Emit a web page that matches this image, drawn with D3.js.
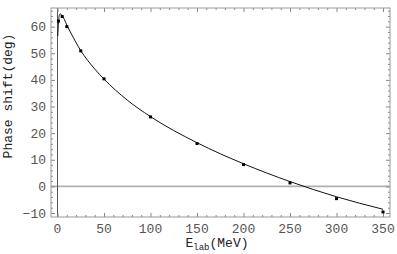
<!DOCTYPE html>
<html>
<head>
<meta charset="utf-8">
<script src="https://cdn.jsdelivr.net/npm/d3@7"></script>
<style>
  body { margin: 0; background: #fff; }
  text { font-family: "Liberation Mono", "DejaVu Sans Mono", monospace; }
</style>
</head>
<body>
<div id="chart"></div>
<script>
// measured phase shifts (points)
var energies = [1, 5, 10, 25, 50, 100, 150, 200, 250, 300, 350];
var phases = [62.1, 63.8, 60.0, 50.9, 40.4, 26.1, 16.1, 8.2, 1.3, -4.6, -9.6];

// fitted curve
var curveE = [0.3, 1, 2, 3, 5, 10, 15, 25, 40, 50, 75, 100, 150, 200, 250, 300, 350];
var curveD = [56.5, 61.5, 64.3, 64.8, 64.2, 60.6, 57.2, 51.0, 44.1, 40.3, 32.4, 26.2, 16.4, 8.5, 1.8, -3.9, -8.6];

var xTicks = [0, 50, 100, 150, 200, 250, 300, 350];
var yTicks = [-10, 0, 10, 20, 30, 40, 50, 60];

var W = 397, H = 254;
var margin = {top: 8, right: 7, bottom: 37, left: 51};
var width = W - margin.left - margin.right,
    height = H - margin.top - margin.bottom;

var svg = d3.select("#chart").append("svg")
    .attr("width", W)
    .attr("height", H);

var x = d3.scaleLinear().domain([-7, 357.5]).range([0, width]);
var y = d3.scaleLinear().domain([-11.5, 67]).range([height, 0]);

var plot = svg.append("g")
    .attr("transform", "translate(" + margin.left + "," + margin.top + ")");

// zero lines
plot.append("line")
    .attr("x1", 0).attr("x2", width)
    .attr("y1", y(0)).attr("y2", y(0))
    .style("stroke", "#b0b0b0").style("stroke-width", 1.6);
plot.append("line")
    .attr("x1", x(0)).attr("x2", x(0))
    .attr("y1", 0).attr("y2", height)
    .style("stroke", "#555").style("stroke-width", 1);

// frame ticks, pointing inward
var xMinor = d3.range(-0, 360, 10).filter(function(v) { return v % 50 != 0; });
var yMinor = d3.range(-10, 67, 2).filter(function(v) { return v % 10 != 0; });

function ticks(axisFn, scale, values, size) {
    return axisFn(scale).tickValues(values).tickSize(size).tickFormat("");
}

var tickColor = "#888";
var frameParts = [
    {fn: d3.axisBottom, s: x, v: xTicks, m: xMinor, pos: "translate(0," + height + ")"},
    {fn: d3.axisTop, s: x, v: xTicks, m: xMinor, pos: "translate(0,0)"},
    {fn: d3.axisLeft, s: y, v: yTicks, m: yMinor, pos: "translate(0,0)"},
    {fn: d3.axisRight, s: y, v: yTicks, m: yMinor, pos: "translate(" + width + ",0)"}
];
frameParts.forEach(function(p) {
    var g1 = plot.append("g").attr("transform", p.pos).call(ticks(p.fn, p.s, p.v, -4));
    var g2 = plot.append("g").attr("transform", p.pos).call(ticks(p.fn, p.s, p.m, -2));
    [g1, g2].forEach(function(g) {
        g.select(".domain").remove();
        g.selectAll("line").style("stroke", tickColor);
    });
});

plot.append("rect")
    .attr("x", 0).attr("y", 0)
    .attr("width", width).attr("height", height)
    .style("fill", "none")
    .style("stroke", "#999")
    .style("stroke-width", 1);

// tick labels
plot.selectAll(".xl").data(xTicks).enter().append("text")
    .attr("x", function(d) { return x(d); })
    .attr("y", height + 16)
    .attr("text-anchor", "middle")
    .style("font-size", "13px").style("fill", "#555")
    .text(function(d) { return d; });

plot.selectAll(".yl").data(yTicks).enter().append("text")
    .attr("x", -5)
    .attr("y", function(d) { return y(d) + 4.5; })
    .attr("text-anchor", "end")
    .style("font-size", "13px").style("fill", "#555")
    .text(function(d) { return d < 0 ? "\u2212" + Math.abs(d) : d; });

// curve
var line = d3.line()
    .x(function(d) { return x(d[0]); })
    .y(function(d) { return y(d[1]); })
    .curve(d3.curveMonotoneX);

plot.append("path")
    .datum(d3.zip(curveE, curveD))
    .attr("d", line)
    .style("fill", "none")
    .style("stroke", "#111")
    .style("stroke-width", 1);

// points
plot.selectAll(".pt").data(d3.zip(energies, phases)).enter().append("rect")
    .attr("x", function(d) { return x(d[0]) - 1.5; })
    .attr("y", function(d) { return y(d[1]) - 1.5; })
    .attr("width", 3).attr("height", 3)
    .style("fill", "#000");

// axis titles
svg.append("text")
    .attr("transform", "translate(12,96) rotate(-90)")
    .attr("text-anchor", "middle")
    .style("font-size", "13px").style("fill", "#222")
    .text("Phase shift(deg)");

var xt = svg.append("text")
    .attr("x", 217)
    .attr("y", 247)
    .attr("text-anchor", "middle")
    .style("font-size", "13px").style("fill", "#222");
xt.append("tspan").text("E");
xt.append("tspan").attr("dy", 3).style("font-size", "9px").text("lab");
xt.append("tspan").attr("dy", -3).text("(MeV)");
</script>
</body>
</html>
